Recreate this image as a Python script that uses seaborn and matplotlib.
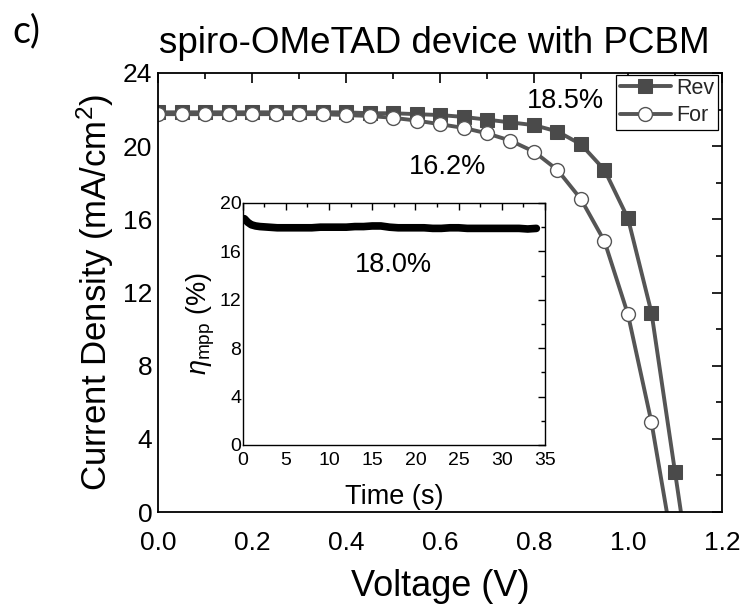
import matplotlib
matplotlib.use("Agg")
import matplotlib.pyplot as plt
import seaborn as sns
import numpy as np
import pandas as pd
from matplotlib.ticker import MultipleLocator

# ---- data ----
voltage = [0.00, 0.05, 0.10, 0.15, 0.20, 0.25, 0.30, 0.35, 0.40, 0.45, 0.50,
           0.55, 0.60, 0.65, 0.70, 0.75, 0.80, 0.85, 0.90, 0.95, 1.00, 1.05,
           1.10, 1.15]
rev_j = [21.85, 21.85, 21.85, 21.85, 21.85, 21.85, 21.85, 21.85, 21.85, 21.8, 21.8,
         21.75, 21.7, 21.6, 21.45, 21.3, 21.15, 20.8, 20.1, 18.7, 16.05, 10.9,
         2.2, -6.5]
for_voltage = [0.00, 0.05, 0.10, 0.15, 0.20, 0.25, 0.30, 0.35, 0.40, 0.45, 0.50,
               0.55, 0.60, 0.65, 0.70, 0.75, 0.80, 0.85, 0.90, 0.95, 1.00, 1.05,
               1.10]
for_j = [21.75, 21.75, 21.75, 21.75, 21.75, 21.75, 21.75, 21.75, 21.7, 21.65, 21.55,
         21.4, 21.2, 21.0, 20.7, 20.3, 19.7, 18.7, 17.1, 14.8, 10.8, 4.9,
         -2.6]

time_s = [0.2, 0.4, 0.6, 0.8, 1.0, 1.5, 2, 3, 4, 5, 6, 7, 8, 9, 10, 11, 12, 13,
          14, 15, 16, 17, 18, 19, 20, 21, 22, 23, 24, 25, 26, 27, 28, 29, 30,
          31, 32, 33, 34]
eta_mpp = [18.7, 18.55, 18.4, 18.3, 18.2, 18.1, 18.05, 18.0, 17.95, 17.95, 17.95,
           17.95, 17.95, 18.0, 18.0, 18.0, 18.0, 18.05, 18.05, 18.1, 18.1, 18.0,
           17.95, 17.95, 17.95, 17.95, 17.9, 17.9, 17.95, 17.95, 17.9, 17.9, 17.9,
           17.9, 17.9, 17.9, 17.9, 17.85, 17.9]

labels = ["Rev", "For"]
eff_rev, eff_for, eff_mpp = "18.5%", "16.2%", "18.0%"

sns.set_theme(style="white")
plt.rcParams['font.family'] = ['Liberation Sans', 'DejaVu Sans']
plt.rcParams['mathtext.fontset'] = 'custom'
plt.rcParams['mathtext.rm'] = 'Liberation Sans'
plt.rcParams['mathtext.it'] = 'Liberation Sans:italic'

fig = plt.figure(figsize=(7.43, 6.16), dpi=100)
ax = fig.add_axes([0.2127, 0.1688, 0.7590, 0.7127])

line_c = "#555555"
sns.lineplot(x=voltage, y=rev_j, ax=ax, color=line_c, lw=2.8, marker='s',
             markersize=9.5, markerfacecolor='#4a4a4a', markeredgecolor='#4a4a4a',
             label=labels[0], sort=False, estimator=None)
sns.lineplot(x=for_voltage, y=for_j, ax=ax, color=line_c, lw=2.8, marker='o',
             markersize=10, markerfacecolor='white', markeredgecolor='#555555',
             markeredgewidth=1.0, label=labels[1], sort=False, estimator=None)

ax.set_xlim(0, 1.2)
ax.set_ylim(0, 24)
ax.xaxis.set_minor_locator(MultipleLocator(0.1))
ax.yaxis.set_major_locator(MultipleLocator(4))
ax.yaxis.set_minor_locator(MultipleLocator(2))
ax.set_xticks(np.arange(0, 1.21, 0.2))
ax.set_xticklabels([f"{v:.1f}" for v in np.arange(0, 1.21, 0.2)])
ax.tick_params(which='both', direction='in', top=True, right=True, colors='black',
               labelsize=19, width=1.2)
ax.tick_params(which='major', length=7)
ax.tick_params(which='minor', length=4)
ax.tick_params(axis='y', which='major', pad=4)
ax.tick_params(axis='x', which='major', pad=14)
for s in ax.spines.values():
    s.set_color('black')
    s.set_linewidth(1.3)

ax.set_xlabel("Voltage (V)", fontsize=26, labelpad=10, color='black')
ax.set_ylabel("Current Density (mA/cm$^2$)", fontsize=25, labelpad=5, color='black')

leg = ax.legend(loc='upper right', bbox_to_anchor=(0.993, 0.996), borderaxespad=0,
                fontsize=15.5, handlelength=2.4, handletextpad=0.25, borderpad=0.15,
                labelspacing=0.3, fancybox=False, framealpha=1, edgecolor='black')
leg.get_frame().set_linewidth(0.9)

ax.text(0.866, 22.45, eff_rev, fontsize=19.5, ha='center', va='center', color='black')
ax.text(0.617, 18.85, eff_for, fontsize=19.5, ha='center', va='center', color='black')

# ---- inset ----
ins = fig.add_axes([0.3266, 0.2776, 0.4069, 0.3929])
sns.lineplot(x=time_s, y=eta_mpp, ax=ins, color='black', lw=5.5,
             sort=False, estimator=None)
ins.set_xlim(0, 35)
ins.set_ylim(0, 20)
ins.xaxis.set_major_locator(MultipleLocator(5))
ins.xaxis.set_minor_locator(MultipleLocator(2.5))
ins.yaxis.set_major_locator(MultipleLocator(4))
ins.yaxis.set_minor_locator(MultipleLocator(2))
ins.tick_params(which='both', direction='in', top=True, right=True, colors='black',
                labelsize=14, width=1.0)
ins.tick_params(which='major', length=5, pad=1)
ins.tick_params(which='minor', length=3)
ins.tick_params(axis='x', which='major', pad=5)
for s in ins.spines.values():
    s.set_color('black')
    s.set_linewidth(1.0)
ins.set_xlabel("Time (s)", fontsize=19.5, labelpad=11, color='black')
ins.set_ylabel(r"$\it{\eta}_{\rm mpp}$ (%)", fontsize=19.5, labelpad=2, color='black')
ins.text(17.4, 14.9, eff_mpp, fontsize=19.5, ha='center', va='center', color='black')

fig.text(0.585, 0.93, "spiro-OMeTAD device with PCBM", fontsize=26.5, ha='center',
         va='center', color='black')
fig.text(0.035, 0.95, "c)", fontsize=27, ha='center', va='center', color='black',
         family=['Lato', 'DejaVu Sans'])

fig.savefig("out.png", dpi=100)
